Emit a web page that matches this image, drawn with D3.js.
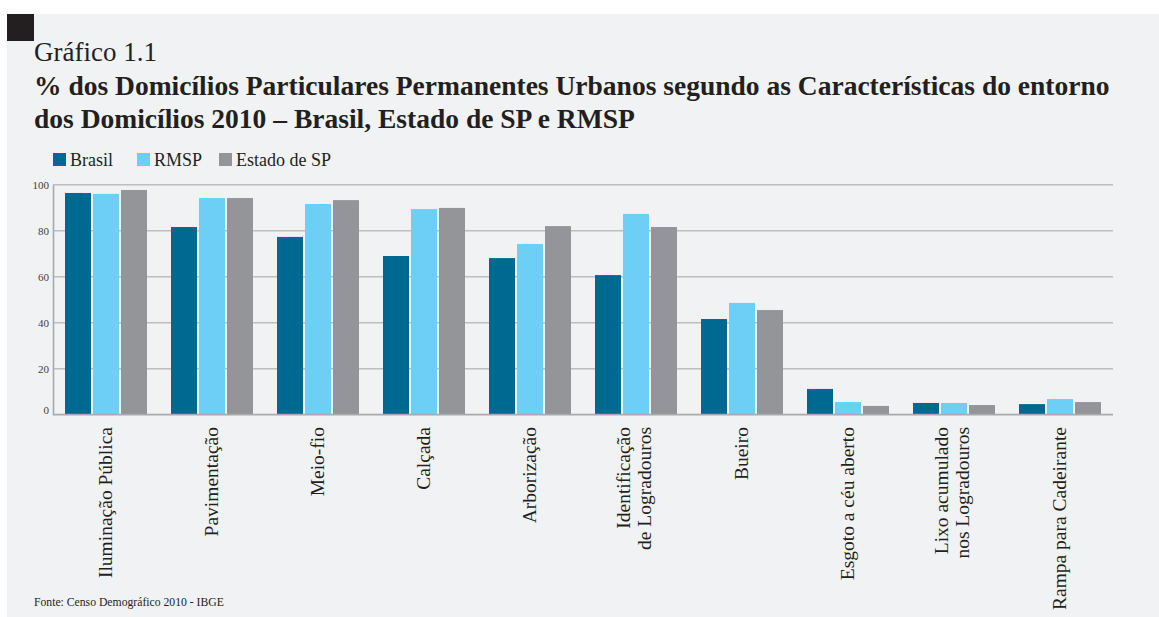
<!DOCTYPE html>
<html lang="pt-BR">
<head>
<meta charset="utf-8">
<script src="https://cdn.jsdelivr.net/npm/d3@7"></script>
<style>
  html, body { margin: 0; padding: 0; background: #ffffff; }
  svg { display: block; }
  text { font-family: "Liberation Serif", "DejaVu Serif", serif; }
</style>
</head>
<body>
<svg id="chart" width="1159" height="617"></svg>
<script>
// Características do entorno dos domicílios (2010), % de domicílios urbanos
const categories = [
  ["Iluminação Pública"],
  ["Pavimentação"],
  ["Meio-fio"],
  ["Calçada"],
  ["Arborização"],
  ["Identificação", "de Logradouros"],
  ["Bueiro"],
  ["Esgoto a céu aberto"],
  ["Lixo acumulado", "nos Logradouros"],
  ["Rampa para Cadeirante"]
];
const seriesNames = ["Brasil", "RMSP", "Estado de SP"];
const brasil = [96.4, 81.6, 77.3, 69.0, 68.1, 60.7, 41.6, 11.2, 5.1, 4.6];
const rmsp   = [96.0, 94.2, 91.6, 89.4, 74.2, 87.3, 48.6, 5.5, 5.1, 6.8];
const estado = [97.7, 94.2, 93.3, 89.9, 82.0, 81.6, 45.5, 3.8, 4.2, 5.5];
const yTicks = [0, 20, 40, 60, 80, 100];
const colors = ["#006991", "#6dcff6", "#939598"];

const titleSmall = "Gráfico 1.1";
const titleLines = [
  "% dos Domicílios Particulares Permanentes Urbanos segundo as Características do entorno",
  "dos Domicílios 2010 – Brasil, Estado de SP e RMSP"
];
const sourceNote = "Fonte: Censo Demográfico 2010 - IBGE";

const series = [brasil, rmsp, estado];
const svg = d3.select("#chart");

// panel background and corner marker
svg.append("rect").attr("x", 7).attr("y", 14).attr("width", 1152).attr("height", 603).attr("fill", "#f1f2f4");
svg.append("rect").attr("x", 7).attr("y", 14).attr("width", 27).attr("height", 27).attr("fill", "#231f20");

// scale a text's font size so that it spans the given width
function fitWidth(sel, width) {
  const node = sel.node();
  const fs = parseFloat(sel.attr("font-size"));
  const w = node.getComputedTextLength();
  const nfs = fs * width / w;
  sel.attr("font-size", nfs);
  return nfs;
}

// titles
const t0 = svg.append("text").attr("x", 34).attr("y", 61).attr("font-size", 27).attr("fill", "#231f20").text(titleSmall);
fitWidth(t0, 123);
const t1 = svg.append("text").attr("x", 34).attr("y", 95).attr("font-size", 26).attr("font-weight", "bold").attr("fill", "#231f20").text(titleLines[0]);
const tfs = fitWidth(t1, 1076);
svg.append("text").attr("x", 34).attr("y", 128).attr("font-size", tfs).attr("font-weight", "bold").attr("fill", "#231f20").text(titleLines[1]);

// chart area
const plot = { left: 53, right: 1113, top: 184.7, bottom: 414.7 };
const x0 = d3.scaleBand().domain(d3.range(categories.length)).range([plot.left, plot.right]).paddingInner(24 / 106).paddingOuter(12 / 106);
const x1 = d3.scaleBand().domain(d3.range(seriesNames.length)).range([0, x0.bandwidth()]).paddingInner(2 / 28);
const y = d3.scaleLinear().domain([0, 100]).range([plot.bottom, plot.top]);

// gridlines
const g = svg.append("g");
g.selectAll("line.grid").data(yTicks.filter(d => d > 0)).join("line")
  .attr("class", "grid")
  .attr("x1", plot.left).attr("x2", plot.right)
  .attr("y1", d => y(d)).attr("y2", d => y(d))
  .attr("stroke", "#bcbec0").attr("stroke-width", 1.6);

// y axis
const yAxis = d3.axisLeft(y).tickValues(yTicks).tickSize(0).tickPadding(4);
const ya = svg.append("g").attr("transform", `translate(${plot.left},0)`).call(yAxis);
ya.select(".domain").attr("stroke", "#a7a9ac").attr("stroke-width", 1.6);
ya.selectAll("text").attr("font-size", 11).attr("fill", "#414042")
  .attr("font-family", "'Liberation Serif', serif")
  .attr("dy", d => d === 0 ? "-0.1em" : "0.32em");

// bars
const groups = svg.append("g").selectAll("g").data(categories.map((c, i) => i)).join("g")
  .attr("transform", i => `translate(${x0(i)},0)`);
groups.selectAll("rect").data(i => series.map((s, k) => ({ k, v: s[i] }))).join("rect")
  .attr("x", d => x1(d.k))
  .attr("width", x1.bandwidth())
  .attr("y", d => y(d.v))
  .attr("height", d => y(0) - y(d.v))
  .attr("fill", d => colors[d.k]);

// x axis baseline
svg.append("line").attr("x1", plot.left).attr("x2", plot.right)
  .attr("y1", plot.bottom).attr("y2", plot.bottom)
  .attr("stroke", "#a7a9ac").attr("stroke-width", 1.8);

// category labels, rotated
const lineGap = 21;
categories.forEach((lines, i) => {
  const cx = x0(i) + x0.bandwidth() / 2;
  lines.forEach((ln, j) => {
    const off = lines.length === 1 ? 6 : 4 + (j - (lines.length - 1) / 2) * lineGap;
    svg.append("text")
      .attr("transform", `translate(${cx + off},427) rotate(-90)`)
      .attr("text-anchor", "end")
      .attr("font-size", 19.5)
      .attr("fill", "#231f20")
      .text(ln);
  });
});

// legend
const legendX = [53, 137, 219];
const lg = svg.append("g").selectAll("g").data(seriesNames).join("g")
  .attr("transform", (d, i) => `translate(${legendX[i]},153)`);
lg.append("rect").attr("width", 13).attr("height", 13).attr("fill", (d, i) => colors[i]);
lg.append("text").attr("x", 17).attr("y", 13).attr("font-size", 18).attr("fill", "#231f20").text(d => d);

// source note
const fn = svg.append("text").attr("x", 34).attr("y", 606).attr("font-size", 11.5).attr("fill", "#231f20").text(sourceNote);
fitWidth(fn, 190);
</script>
</body>
</html>
